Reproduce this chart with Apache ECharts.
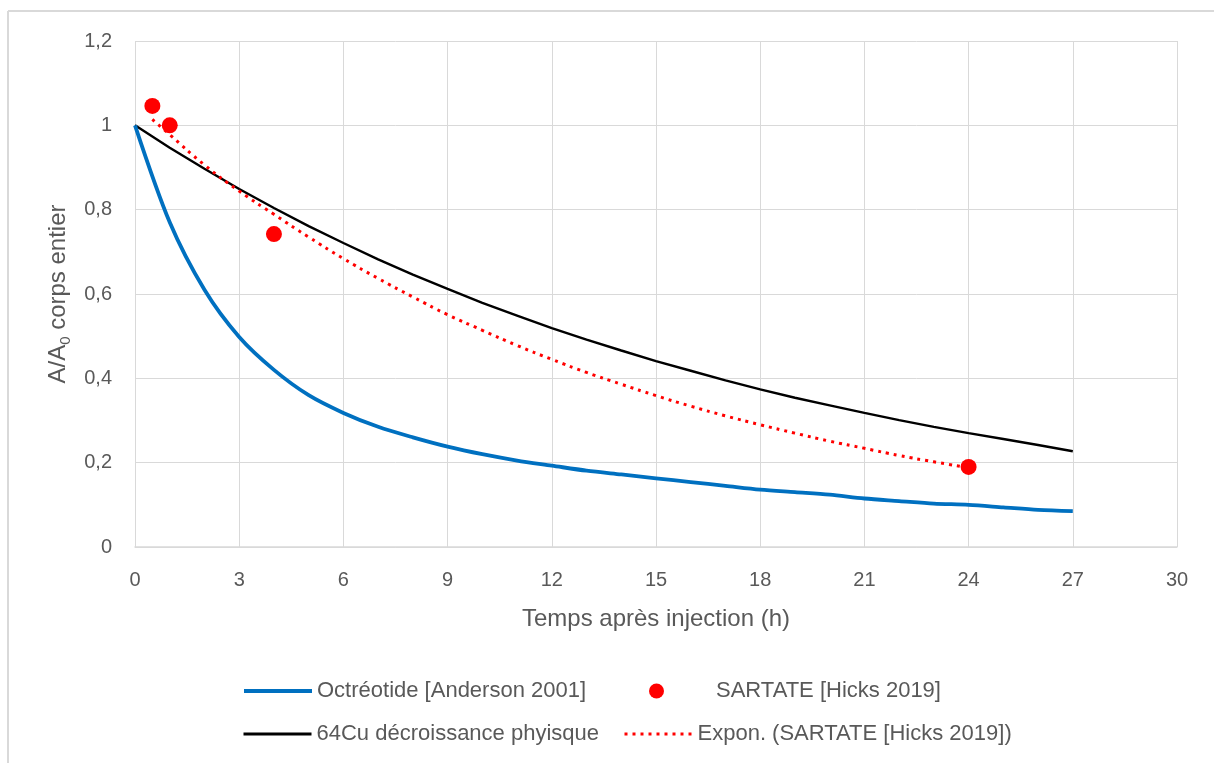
<!DOCTYPE html>
<html>
<head>
<meta charset="utf-8">
<script src="https://cdn.jsdelivr.net/npm/echarts@6/dist/echarts.min.js"></script>
<style>
html,body{margin:0;padding:0;background:#fff;}
#main{width:1214px;height:763px;}
</style>
</head>
<body>
<div id="main"></div>
<script>
// Data
const octreotideHours = [0,1,2,3,4,5,6,7,8,9,10,11,12,13,14,15,16,17,18,19,20,21,22,23,24,25,26,27];
const octreotideValues = [1,0.77,0.61,0.498,0.42,0.36,0.318,0.285,0.26,0.238,0.22,0.205,0.193,0.181,0.172,0.163,0.154,0.145,0.136,0.13,0.124,0.115,0.109,0.103,0.1,0.094,0.088,0.085];

const cuHours = [0,1,2,3,4,5,6,7,8,9,10,11,12,13,14,15,16,17,18,19,20,21,22,23,24,25,26,27];
const cuValues = [1,0.947,0.897,0.849,0.804,0.761,0.721,0.682,0.646,0.612,0.579,0.549,0.519,0.492,0.466,0.441,0.418,0.395,0.374,0.354,0.336,0.318,0.301,0.285,0.27,0.256,0.242,0.227];

const sartateHours = [0.5,1,4,24];
const sartateValues = [1.046,1.0,0.742,0.19];

const trendHours = [0.5,1,2,3,4,5,6,7,8,9,10,11,12,13,14,15,16,17,18,19,20,21,22,23,24];
const trendValues = [1.014,0.978,0.906,0.844,0.789,0.735,0.684,0.637,0.593,0.551,0.514,0.478,0.445,0.414,0.386,0.359,0.334,0.311,0.29,0.27,0.251,0.234,0.217,0.202,0.188];

const seriesNames = ['Octréotide [Anderson 2001]','SARTATE [Hicks 2019]','64Cu décroissance phyisque','Expon. (SARTATE [Hicks 2019])'];
const xAxisTitle = 'Temps après injection (h)';

function pairs(xs, ys){ return xs.map((x,i)=>[x, ys[i]]); }

const FONT = 'Liberation Sans';
const TXT = '#595959';
const GRID = '#d9d9d9';
const LEG_FS = 22;

const chart = echarts.init(document.getElementById('main'), null, {renderer:'canvas'});

function legendAt(name, left, top, extra){
  return Object.assign({
    data:[name], left:left, top:top, padding:0, itemWidth:68, itemHeight:14,
    textStyle:{fontFamily:FONT, fontSize:LEG_FS, color:TXT}, selectedMode:false
  }, extra||{});
}
const hideSym = {color:'rgba(0,0,0,0)', borderWidth:0, opacity:0};

chart.setOption({
  animation:false,
  backgroundColor:'#fff',
  graphic:[
    {type:'line', shape:{x1:8, y1:11, x2:1214, y2:11}, style:{stroke:'#d9d9d9', lineWidth:2}, silent:true},
    {type:'line', shape:{x1:8, y1:11, x2:8, y2:763}, style:{stroke:'#d9d9d9', lineWidth:2}, silent:true}
  ],
  grid:{left:135, right:37, top:41, bottom:216, containLabel:false},
  legend:[
    legendAt(seriesNames[0], 242, 680, {itemStyle:hideSym, lineStyle:{width:4}}),
    legendAt(seriesNames[1], 649, 680, {itemWidth:15, itemHeight:15, itemStyle:{opacity:1},
      formatter: n => '{g|}{n|' + n + '}',
      textStyle:{fontFamily:FONT, fontSize:LEG_FS, color:TXT,
        rich:{g:{width:47}, n:{fontFamily:FONT, fontSize:LEG_FS, color:TXT}}}}),
    legendAt(seriesNames[2], 242, 723, {itemStyle:hideSym, lineStyle:{width:3}}),
    legendAt(seriesNames[3], 623, 723, {itemStyle:hideSym, lineStyle:{width:3}})
  ],
  xAxis:{
    type:'value', min:0, max:30, interval:3,
    name:xAxisTitle, nameLocation:'middle', nameGap:60,
    nameTextStyle:{fontFamily:FONT, fontSize:24, color:TXT},
    axisLine:{show:true, lineStyle:{color:GRID, width:1.5}},
    axisTick:{show:false},
    axisLabel:{fontFamily:FONT, fontSize:20, color:TXT, margin:23},
    splitLine:{show:true, lineStyle:{color:GRID, width:1}}
  },
  yAxis:{
    type:'value', min:0, max:1.2, interval:0.2,
    name:'A/A{sub|0} corps entier', nameLocation:'middle', nameGap:61,
    nameTextStyle:{fontFamily:FONT, fontSize:24, color:TXT,
      rich:{sub:{fontFamily:FONT, fontSize:15, color:TXT, verticalAlign:'bottom', padding:[14,0,0,0]}}},
    axisLine:{show:false}, axisTick:{show:false},
    axisLabel:{fontFamily:FONT, fontSize:20, color:TXT, margin:23,
      formatter:v=>String(Math.round(v*10)/10).replace('.',',')},
    splitLine:{show:true, lineStyle:{color:GRID, width:1}}
  },
  series:[
    {name:seriesNames[0], type:'line', data:pairs(octreotideHours, octreotideValues),
     showSymbol:false, symbol:'none', smooth:0.3, lineStyle:{color:'#0070C0', width:3.8}, itemStyle:{color:'#0070C0'}, z:3},
    {name:seriesNames[1], type:'scatter', data:pairs(sartateHours, sartateValues),
     symbol:'circle', symbolSize:16, itemStyle:{color:'#FF0000', opacity:1}, z:5},
    {name:seriesNames[2], type:'line', data:pairs(cuHours, cuValues),
     showSymbol:false, symbol:'none', lineStyle:{color:'#000000', width:2.4}, itemStyle:{color:'#000'}, z:2},
    {name:seriesNames[3], type:'line', data:pairs(trendHours, trendValues),
     showSymbol:false, symbol:'none', smooth:true, lineStyle:{color:'#FF0000', width:3, type:[3,5]}, itemStyle:{color:'#FF0000'}, z:4}
  ]
});
</script>
</body>
</html>
